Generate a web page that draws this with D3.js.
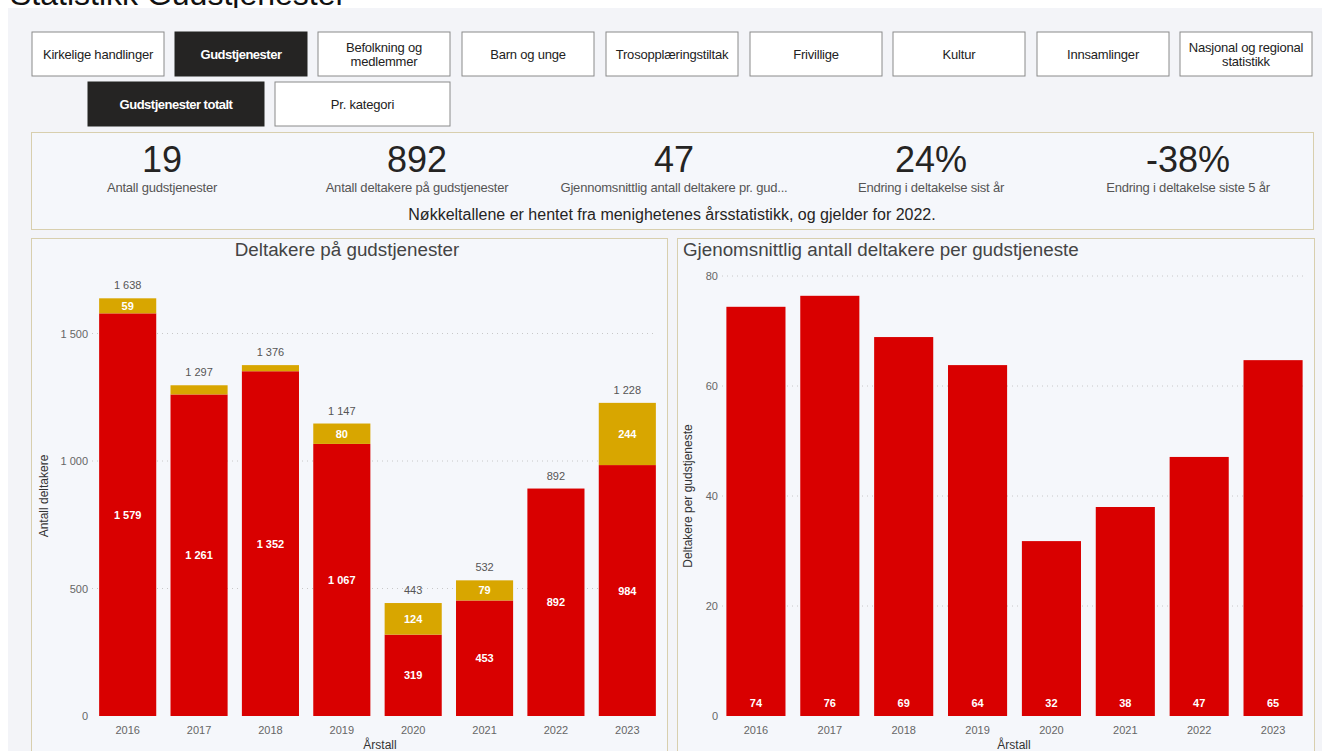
<!DOCTYPE html>
<html>
<head>
<meta charset="utf-8">
<script src="https://cdn.jsdelivr.net/npm/d3@7"></script>
<style>
  body { margin: 0; background: #fff; }
  svg { display: block; font-family: "Liberation Sans", Arial, sans-serif; }
</style>
</head>
<body>
<div id="chart"></div>
<script>
const years = ["2016", "2017", "2018", "2019", "2020", "2021", "2022", "2023"];
const regular = [1579, 1261, 1352, 1067, 319, 453, 892, 984];
const other = [59, 36, 24, 80, 124, 79, 0, 244];
const avgPer = [74.4, 76.4, 68.9, 63.8, 31.8, 38.0, 47.1, 64.7];
const leftTicks = [0, 500, 1000, 1500];
const rightTicks = [0, 20, 40, 60, 80];

const navRow1 = ["Kirkelige handlinger", "Gudstjenester", "Befolkning og|medlemmer", "Barn og unge",
  "Trosopplæringstiltak", "Frivillige", "Kultur", "Innsamlinger", "Nasjonal og regional|statistikk"];
const navRow2 = ["Gudstjenester totalt", "Pr. kategori"];
const kpiValues = ["19", "892", "47", "24%", "-38%"];
const kpiLabels = ["Antall gudstjenester", "Antall deltakere på gudstjenester",
  "Gjennomsnittlig antall deltakere pr. gud...", "Endring i deltakelse sist år", "Endring i deltakelse siste 5 år"];

const width = 1322, height = 751;
const red = "#d90000", gold = "#d8a600";
const fmt = v => d3.format(",")(Math.round(v)).replace(/,/g, " ");

const svg = d3.select("#chart").append("svg")
  .attr("width", width).attr("height", height);

// page title, cut off by the top edge as in the original screenshot
svg.append("text").attr("x", 10).attr("y", 5)
  .attr("font-size", 32).attr("fill", "#111").text("Statistikk Gudstjenester");

svg.append("rect").attr("x", 8).attr("y", 8).attr("width", width - 8).attr("height", height - 8)
  .attr("fill", "#f3f4f8");

// nav buttons
function buttons(list, xs, y, w, h, active) {
  const g = svg.append("g");
  list.forEach((label, i) => {
    const on = active.includes(i);
    const b = g.append("g").attr("transform", `translate(${xs[i]},${y})`);
    b.append("rect").attr("width", w[i]).attr("height", h)
      .attr("fill", on ? "#252423" : "#fff")
      .attr("stroke", on ? "#252423" : "#8a8a8a").attr("stroke-width", 1);
    const lines = label.split("|");
    lines.forEach((ln, j) => {
      b.append("text").attr("x", w[i] / 2)
        .attr("y", h / 2 + 4.5 + (j - (lines.length - 1) / 2) * 14)
        .attr("text-anchor", "middle").attr("font-size", 13)
        .attr("font-weight", on ? "bold" : "normal")
        .attr("letter-spacing", on ? -0.5 : -0.2)
        .attr("fill", on ? "#fff" : "#222").text(ln);
    });
  });
}
const row1x = [32, 175, 318, 462, 606, 750, 893, 1037, 1180];
buttons(navRow1, row1x, 32, row1x.map(() => 132), 44, [1]);
buttons(navRow2, [88, 275], 82, [176, 175], 44, [0]);

// KPI card
svg.append("rect").attr("x", 31.5).attr("y", 132.5).attr("width", 1282).attr("height", 97)
  .attr("fill", "#f5f7fb").attr("stroke", "#d8cfae");
const kpiX = d3.scalePoint().domain(d3.range(5)).range([160, 1188]);
kpiValues.forEach((v, i) => {
  svg.append("text").attr("x", i === 0 ? 162 : kpiX(i)).attr("y", 172).attr("text-anchor", "middle")
    .attr("font-size", 36).attr("fill", "#252423").text(v);
  svg.append("text").attr("x", i === 0 ? 162 : kpiX(i)).attr("y", 192).attr("text-anchor", "middle")
    .attr("font-size", 13).attr("letter-spacing", -0.2).attr("fill", "#555").text(kpiLabels[i]);
});
svg.append("text").attr("x", 672).attr("y", 220).attr("text-anchor", "middle")
  .attr("font-size", 16).attr("fill", "#252423")
  .text("Nøkkeltallene er hentet fra menighetenes årsstatistikk, og gjelder for 2022.");

// panels
[[31.5, 636], [677.5, 637]].forEach(([x, w]) => {
  svg.append("rect").attr("x", x).attr("y", 238.5).attr("width", w).attr("height", 520)
    .attr("fill", "#f5f7fb").attr("stroke", "#d8cfae");
});

function axes(g, x, y, ticks, tickFmt, x0, x1) {
  g.append("g").selectAll("line").data(ticks.filter(t => t > 0)).join("line")
    .attr("x1", x0).attr("x2", x1).attr("y1", d => y(d)).attr("y2", d => y(d))
    .attr("stroke", "#c8c8c8").attr("stroke-dasharray", "1,4");
  g.append("g").selectAll("text").data(ticks).join("text")
    .attr("x", x0 - 4).attr("y", d => y(d) + 4).attr("text-anchor", "end")
    .attr("font-size", 11).attr("fill", "#666").text(tickFmt);
  g.append("g").selectAll("text").data(years).join("text")
    .attr("x", d => x(d) + x.bandwidth() / 2).attr("y", 734).attr("text-anchor", "middle")
    .attr("font-size", 11).attr("fill", "#666").text(d => d);
}

// left: stacked bars
{
  const g = svg.append("g");
  const x = d3.scaleBand().domain(years).range([92, 663]).paddingInner(0.2).paddingOuter(0.1);
  const y = d3.scaleLinear().domain([0, 1500]).range([716, 333.5]);
  axes(g, x, y, leftTicks, fmt, 92, 656);
  const rows = years.map((yr, i) => ({ year: yr, regular: regular[i], other: other[i] }));
  const stack = d3.stack().keys(["regular", "other"])(rows);
  const colors = [red, gold];
  stack.forEach((s, k) => {
    g.append("g").selectAll("rect").data(s).join("rect")
      .attr("x", d => x(d.data.year)).attr("width", x.bandwidth())
      .attr("y", d => y(d[1])).attr("height", d => y(d[0]) - y(d[1]))
      .attr("fill", colors[k]);
    g.append("g").selectAll("text").data(s.filter(d => y(d[0]) - y(d[1]) > 14)).join("text")
      .attr("x", d => x(d.data.year) + x.bandwidth() / 2)
      .attr("y", d => (y(d[0]) + y(d[1])) / 2 + 4)
      .attr("text-anchor", "middle").attr("font-size", 11).attr("font-weight", "bold")
      .attr("fill", "#fff").text(d => fmt(d[1] - d[0]));
  });
  g.append("g").selectAll("text").data(rows).join("text")
    .attr("x", d => x(d.year) + x.bandwidth() / 2)
    .attr("y", d => y(d.regular + d.other) - 9)
    .attr("text-anchor", "middle").attr("font-size", 11).attr("fill", "#555")
    .text(d => fmt(d.regular + d.other));
  g.append("text").attr("x", 347).attr("y", 256).attr("text-anchor", "middle")
    .attr("font-size", 18.8).attr("fill", "#444").text("Deltakere på gudstjenester");
  g.append("text").attr("x", 380).attr("y", 749).attr("text-anchor", "middle")
    .attr("font-size", 12).attr("fill", "#333").text("Årstall");
  g.append("text").attr("transform", "translate(48,496) rotate(-90)").attr("text-anchor", "middle")
    .attr("font-size", 12).attr("fill", "#333").text("Antall deltakere");
}

// right: average bars
{
  const g = svg.append("g");
  const x = d3.scaleBand().domain(years).range([719, 1310]).paddingInner(0.2).paddingOuter(0.1);
  const y = d3.scaleLinear().domain([0, 80]).range([716, 276]);
  axes(g, x, y, rightTicks, d => d, 722, 1303);
  g.append("g").selectAll("rect").data(avgPer).join("rect")
    .attr("x", (d, i) => x(years[i])).attr("width", x.bandwidth())
    .attr("y", d => y(d)).attr("height", d => y(0) - y(d)).attr("fill", red);
  g.append("g").selectAll("text").data(avgPer).join("text")
    .attr("x", (d, i) => x(years[i]) + x.bandwidth() / 2).attr("y", 707)
    .attr("text-anchor", "middle").attr("font-size", 11).attr("font-weight", "bold")
    .attr("fill", "#fff").text(d => Math.round(d));
  g.append("text").attr("x", 683).attr("y", 256)
    .attr("font-size", 18.8).attr("fill", "#444").text("Gjenomsnittlig antall deltakere per gudstjeneste");
  g.append("text").attr("x", 1014).attr("y", 749).attr("text-anchor", "middle")
    .attr("font-size", 12).attr("fill", "#333").text("Årstall");
  g.append("text").attr("transform", "translate(692,496) rotate(-90)").attr("text-anchor", "middle")
    .attr("font-size", 12).attr("fill", "#333").text("Deltakere per gudstjeneste");
}
</script>
</body>
</html>
